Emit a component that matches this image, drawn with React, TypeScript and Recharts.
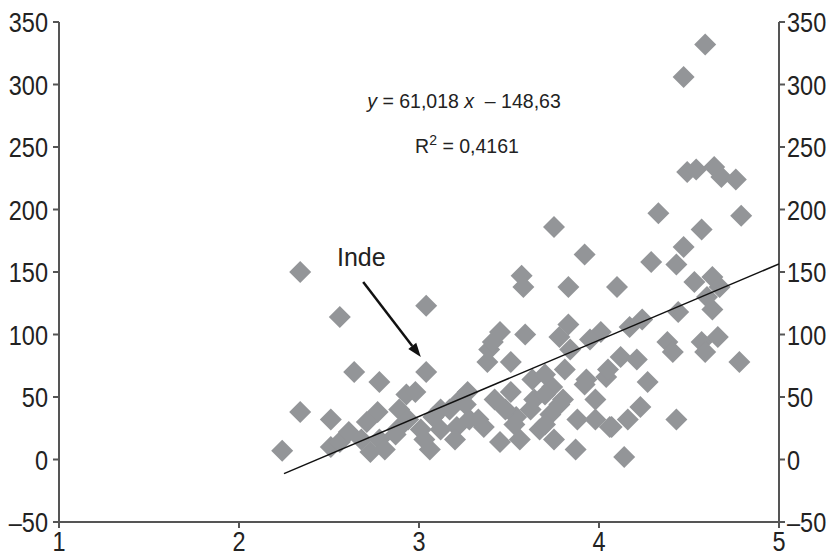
import React from "react";
import {
  ScatterChart,
  Scatter,
  XAxis,
  YAxis,
  ReferenceLine,
} from "recharts";

// scatter points
const pointsX = [
  2.24, 2.34, 2.34, 2.56, 2.51, 2.51, 2.56, 2.64, 2.61, 2.68, 2.78, 2.77, 2.71,
  2.78, 2.73, 2.81, 2.87, 2.88, 2.93, 2.98, 2.89, 3.04, 3.04, 3.06, 3.08, 3.01,
  3.03, 3.17, 3.21, 3.27, 3.26, 3.36, 3.38, 3.39, 3.41, 3.45, 3.45, 3.42, 3.51,
  3.51, 3.54, 3.56, 3.57, 3.58, 3.59, 3.63, 3.67, 3.74, 3.75, 3.78, 3.8, 3.83,
  3.83, 3.88, 3.87, 3.92, 3.93, 3.98, 4.01, 4.04, 4.06, 4.1, 4.12, 4.14, 4.16,
  4.17, 4.21, 4.23, 4.24, 4.27, 4.29, 4.33, 4.38, 4.41, 4.43, 4.43, 4.44, 4.47,
  4.47, 4.49, 4.54, 4.57, 4.53, 4.57, 4.59, 4.59, 4.63, 4.67, 4.6, 4.63, 4.66,
  4.64, 4.68, 4.76, 4.79, 4.78, 3.12, 3.23, 3.33, 3.48, 3.62, 3.64, 3.7, 3.7,
  3.73, 3.78, 3.81, 3.84, 3.92, 3.95, 4.05, 4.07, 3.7, 3.75, 3.28, 3.2, 3.53,
  3.98, 2.94, 3.12,
];
const pointsY = [
  7, 150, 38, 114, 32, 10, 14, 70, 22, 16, 62, 38, 30, 16, 6, 8, 20, 24, 52, 54,
  40, 70, 123, 8, 34, 24, 16, 40, 26, 54, 44, 26, 78, 88, 94, 102, 14, 48, 78,
  54, 34, 16, 147, 138, 100, 64, 24, 58, 186, 98, 48, 108, 138, 32, 8, 164, 64,
  48, 102, 66, 26, 138, 82, 2, 32, 106, 80, 42, 112, 62, 158, 197, 94, 86, 32,
  156, 118, 170, 306, 230, 232, 184, 142, 94, 86, 332, 146, 138, 130, 120, 98,
  234, 226, 224, 195, 78, 40, 48, 32, 40, 40, 48, 68, 52, 36, 44, 72, 88, 60, 96,
  72, 26, 28, 16, 32, 16, 28, 32, 32, 24,
];

// trend line end points (y = 61,018x - 148,63)
const trendX = [2.25, 5];
const trendY = [-11.3, 156.5];

const xTicks = [1, 2, 3, 4, 5];
const yTicks = [-50, 0, 50, 100, 150, 200, 250, 300, 350];

const points = pointsX.map((x, i) => ({ x, y: pointsY[i] }));
const trend = trendX.map((x, i) => ({ x, y: trendY[i] }));

const AXIS = "#555";
const FONT = "'Liberation Sans', Arial, sans-serif";

const fmt = (v: number) => String(v).replace("-", "\u2013");

// narrow tick labels, like the condensed face in the original
const NarrowTick = (props: any) => {
  const { x, y, payload, textAnchor, verticalAnchor } = props;
  const dy = verticalAnchor === "start" ? "0.72em" : "0.36em";
  return (
    <g transform={`translate(${x},${y}) scale(0.84,1)`}>
      <text
        x={0}
        y={0}
        dy={dy}
        textAnchor={textAnchor}
        fill="#222"
        fontSize={28}
        fontFamily={FONT}
      >
        {fmt(payload.value)}
      </text>
    </g>
  );
};

const Diamond = (props: any) => {
  const { cx, cy } = props;
  const r = 11;
  return (
    <polygon
      points={`${cx},${cy - r} ${cx + r},${cy} ${cx},${cy + r} ${cx - r},${cy}`}
      fill="#939598"
    />
  );
};

const Arrow = (props: any) => {
  const { x1, y1, x2, y2 } = props;
  const ang = Math.atan2(y2 - y1, x2 - x1);
  const len = 14;
  const w = 5;
  const bx = x2 - len * Math.cos(ang);
  const by = y2 - len * Math.sin(ang);
  const px = -Math.sin(ang) * w;
  const py = Math.cos(ang) * w;
  return (
    <g>
      <line x1={x1} y1={y1} x2={bx} y2={by} stroke="#111" strokeWidth={2.5} />
      <polygon
        points={`${x2},${y2} ${bx + px},${by + py} ${bx - px},${by - py}`}
        fill="#111"
      />
    </g>
  );
};

const App: React.FC = () => {
  return (
    <div style={{ position: "absolute", left: 0, top: 0, width: 835, height: 555, background: "#fff" }}>
      <ScatterChart
        width={835}
        height={555}
        margin={{ top: 22, right: 0, bottom: 0, left: 0 }}
      >
        <XAxis
          type="number"
          dataKey="x"
          domain={[1, 5]}
          ticks={xTicks}
          allowDataOverflow
          height={33}
          tickSize={6}
          tickMargin={3}
          tick={<NarrowTick />}
          stroke={AXIS}
          strokeWidth={2}
        />
        <YAxis
          yAxisId="left"
          type="number"
          dataKey="y"
          domain={[-50, 350]}
          ticks={yTicks}
          allowDataOverflow
          width={59}
          tickSize={6}
          tickMargin={5}
          tick={<NarrowTick />}
          stroke={AXIS}
          strokeWidth={2}
        />
        <YAxis
          yAxisId="right"
          orientation="right"
          type="number"
          dataKey="y"
          domain={[-50, 350]}
          ticks={yTicks}
          allowDataOverflow
          width={56}
          tickSize={6}
          tickMargin={2}
          tick={<NarrowTick />}
          stroke={AXIS}
          strokeWidth={2}
        />
        <Scatter
          yAxisId="left"
          data={points}
          shape={Diamond}
          isAnimationActive={false}
        />
        <Scatter
          yAxisId="left"
          data={trend}
          line={{ stroke: "#111", strokeWidth: 1.5 }}
          shape={() => <g />}
          isAnimationActive={false}
        />
        <ReferenceLine
          yAxisId="left"
          segment={[
            { x: 2.69, y: 142 },
            { x: 3.01, y: 82 },
          ]}
          shape={Arrow}
        />
      </ScatterChart>
      <div
        style={{
          position: "absolute",
          left: 337,
          top: 243,
          fontFamily: FONT,
          fontSize: 25,
          color: "#222",
          lineHeight: "28px",
        }}
      >
        Inde
      </div>
      <div
        style={{
          position: "absolute",
          left: 314,
          top: 89,
          width: 300,
          textAlign: "center",
          fontFamily: FONT,
          fontSize: 19.5,
          color: "#222",
          lineHeight: "25px",
        }}
      >
        <div>
          <i>y</i> = 61,018 <i>x</i> &nbsp;– 148,63
        </div>
        <div style={{ marginTop: 14, marginLeft: 6 }}>
          R<sup style={{ fontSize: 14 }}>2</sup> = 0,4161
        </div>
      </div>
    </div>
  );
};

export default App;
